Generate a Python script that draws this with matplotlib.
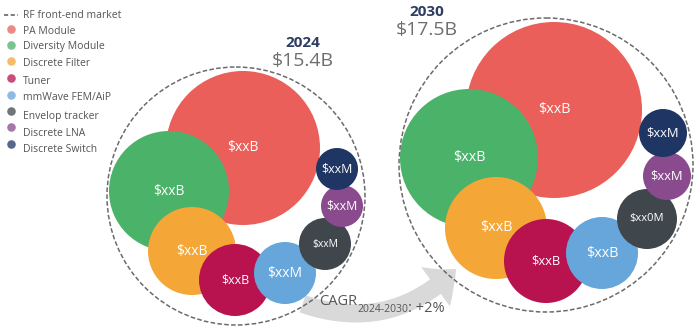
import matplotlib.pyplot as plt
from matplotlib.patches import Circle, FancyArrowPatch

plt.rcParams['font.family'] = ['Open Sans', 'DejaVu Sans']

# segments
categories = ["PA Module", "Diversity Module", "Discrete Filter", "Tuner",
              "mmWave FEM/AiP", "Envelop tracker", "Discrete LNA", "Discrete Switch"]
colors = ["#EA5F59", "#4BB26A", "#F4A636", "#B8124F",
          "#66A6DA", "#3F474C", "#8A4A8E", "#1F3563"]

years = ["2024", "2030"]
totals = ["$15.4B", "$17.5B"]
total_radius = [129, 147]

# bubble radii (pixels)
radius_2024 = [77, 60, 44, 36, 31, 26, 21, 21]
radius_2030 = [88, 69, 51, 42, 36, 30, 24, 24]
labels_2024 = ["$xxB", "$xxB", "$xxB", "$xxB", "$xxM", "$xxM", "$xxM", "$xxM"]
labels_2030 = ["$xxB", "$xxB", "$xxB", "$xxB", "$xxB", "$xx0M", "$xxM", "$xxM"]

cagr = "+2%"

# layout (pixel positions)
centers_2024 = [(243, 148), (169, 191), (192, 251), (235, 280),
                (285, 273), (325, 244), (342, 206), (337, 169)]
centers_2030 = [(554, 110), (469, 158), (496, 228), (546, 261),
                (602, 253), (647, 219), (667, 176), (663, 133)]
outer_centers = [(236, 196), (546, 165)]
title_pos = [(303, 43), (427, 12)]


def esc(s):
    return s.replace("$", r"\$")


fig = plt.figure(figsize=(7, 3.35), dpi=100)
ax = fig.add_axes([0, 0, 1, 1])
ax.set_xlim(0, 700)
ax.set_ylim(335, 0)
ax.set_aspect("equal")
ax.axis("off")

# growth arrow
arrow = FancyArrowPatch((300, 303), (458, 267),
                        connectionstyle="arc3,rad=0.32",
                        arrowstyle="simple,head_width=2.7,head_length=1.5,tail_width=1.0",
                        mutation_scale=13, color="#D9D9D9", lw=0, zorder=1)
ax.add_patch(arrow)

fontsizes = [10, 10, 10, 9, 10, 7.5, 9, 9]
for k, (radii, labels, centers) in enumerate([(radius_2024, labels_2024, centers_2024),
                                              (radius_2030, labels_2030, centers_2030)]):
    for i in range(len(categories)):
        ax.add_patch(Circle(centers[i], radii[i], color=colors[i], lw=0, zorder=2))
        fs = fontsizes[i] + (0.4 if k == 1 else 0)
        if k == 1 and i == 5:
            fs = 8
        ax.text(centers[i][0], centers[i][1], esc(labels[i]), color="white",
                fontsize=fs, ha="center", va="center", zorder=4)
    ax.add_patch(Circle(outer_centers[k], total_radius[k], fill=False,
                        ec="#6b6b6b", lw=1.1, ls=(0, (3, 1.5)), zorder=3))
    tx, ty = title_pos[k]
    ax.text(tx, ty, years[k], color="#2E3D63", fontsize=11, fontweight="bold",
            ha="center", va="center")
    ax.text(tx, ty + 18, esc(totals[k]), color="#6E6E6E", fontsize=14,
            ha="center", va="center")

# CAGR text
t = ax.text(319, 305, "CAGR", color="#555555", fontsize=10.5, ha="left",
            va="baseline", zorder=5)
t2 = ax.annotate("2024-2030", xy=(1, 0), xycoords=t, xytext=(0, -2),
                 textcoords="offset points", fontsize=7.5, color="#555555",
                 ha="left", va="baseline", zorder=5)
ax.annotate(": " + cagr, xy=(1, 0), xycoords=t2, xytext=(0, 2),
            textcoords="offset points", fontsize=10.5, color="#555555",
            ha="left", va="baseline", zorder=5)

# legend
ax.plot([4, 18], [15, 15], color="#666666", lw=1.2, ls=(0, (2.5, 1.5)))
ax.text(23, 15, "RF front-end market", fontsize=7.5, color="#555555", va="center")
marker_y = [29, 45, 61, 78, 95, 111, 127, 144]
text_y = [31, 47, 63, 81, 98, 116, 133, 150]
for i, cat in enumerate(categories):
    ax.scatter(11, marker_y[i], s=38, color=colors[i], alpha=0.75, lw=0)
    ax.text(23, text_y[i], cat, fontsize=7.5, color="#555555", va="center")

fig.savefig("out.png", dpi=100)
